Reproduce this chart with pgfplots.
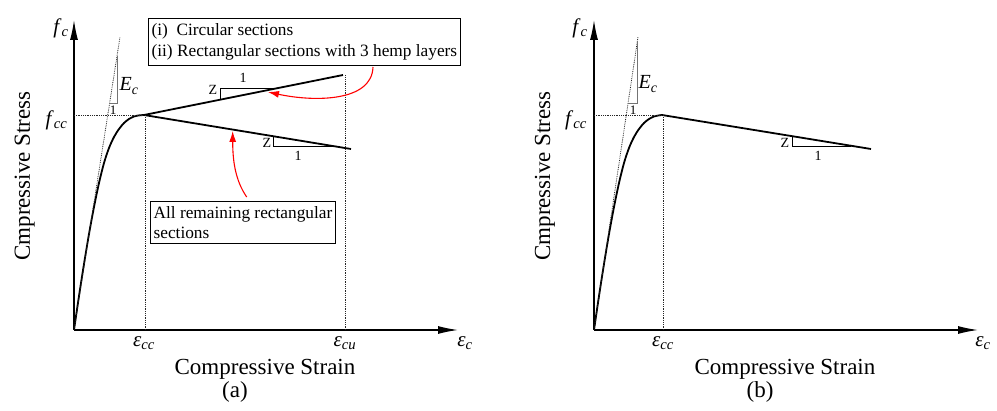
\documentclass[border=0pt]{standalone}
\usepackage{fontspec}
\setmainfont{Liberation Serif}
\usepackage{pgfplots}
\pgfplotsset{compat=1.18}
\usetikzlibrary{arrows.meta}

% italic symbol with italic subscript
\newcommand\sym[2]{\textit{#1}\textsubscript{\textit{#2}}}
\newcommand\fs[1]{\fontsize{#1}{#1}\selectfont}

\pgfplotsset{
  ssaxis/.style={
    x=1pt, y=1pt, xmin=0, xmax=384, ymin=0, ymax=310,
    axis lines*=left,
    axis line style={line width=1.3pt, -{Latex[length=20pt,width=8pt]}},
    xtick=\empty, ytick=\empty, clip=false, anchor=south west,
  },
  curve/.style={line width=1.8pt, black, no markers},
  guide/.style={densely dotted, line width=0.8pt, black!85, no markers},
  slope/.style={line width=0.8pt, black, no markers},
  ecslope/.style={line width=0.6pt, black!55, no markers},
}

\begin{document}
\begin{tikzpicture}
\path[use as bounding box] (0,0) rectangle (997pt,-411pt);

% ---------------- (a) ----------------
\begin{axis}[ssaxis, at={(74pt,-330pt)}]
  % initial ascending branch
  \addplot[curve, smooth] coordinates {
    (0,0) (5,34) (10,66) (15,96) (20,123) (25,147) (30,167) (35,182)
    (40,193) (45,201) (50,207) (55,211) (60,213.5) (65,214.6) (70,215)};
  % hardening branch
  \addplot[curve] coordinates {(70,215) (269,255)};
  % softening branch
  \addplot[curve] coordinates {(70,215) (277,181)};
  % guides
  \addplot[guide] coordinates {(0,215) (70,215)};
  \addplot[guide] coordinates {(71,0) (71,215)};
  \addplot[guide] coordinates {(271,0) (271,255)};
  \addplot[guide] coordinates {(0,0) (46,293)};
  % slope triangles
  \addplot[ecslope] coordinates {(43,274) (43,227) (35.6,227)};
  \addplot[slope] coordinates {(146,230.3) (146,242) (201,242)};
  \addplot[slope] coordinates {(199,193.8) (199,184) (259,184)};

  \node[font=\fs{20}] at (axis cs:55,244) {\sym{E}{c}};
  \node[font=\fs{13}] at (axis cs:39,220) {1};
  \node[font=\fs{14}] at (axis cs:139,240) {Z};
  \node[font=\fs{14}] at (axis cs:169,252) {1};
  \node[font=\fs{14}] at (axis cs:193,187) {Z};
  \node[font=\fs{14}] at (axis cs:224,174) {1};

  \node[font=\fs{21}] at (axis cs:-13,302) {\sym{f}{c}};
  \node[font=\fs{21}] at (axis cs:-17.5,210) {\sym{f}{cc}};
  \node[font=\fs{21}] at (axis cs:70,-13) {\sym{ε}{cc}};
  \node[font=\fs{21}] at (axis cs:271,-13) {\sym{ε}{cu}};
  \node[font=\fs{21}] at (axis cs:391,-13) {\sym{ε}{c}};

  \node[font=\fs{23}, anchor=base] at (axis cs:191,-45) {Compressive Strain};
  \node[font=\fs{23}, anchor=base] at (axis cs:161,-67) {(a)};
  \node[font=\fs{23}, anchor=base, rotate=90] at (axis cs:-44,154) {Cmpressive Stress};

  \node[draw, line width=1.2pt, align=left, anchor=north west,
        inner xsep=3pt, inner ysep=5pt, font=\fontsize{17.3}{21}\selectfont]
    at (axis cs:74,312)
    {(i)\ \ Circular sections\\(ii) Rectangular sections with 3 hemp layers};
  \node[draw, line width=1.2pt, align=left, anchor=north west,
        inner xsep=3pt, inner ysep=5pt, font=\fontsize{17.3}{20}\selectfont]
    at (axis cs:76,129)
    {All remaining rectangular\\sections};

  \draw[red, line width=1.1pt, -{Latex[length=11pt,width=7pt]}]
    (axis cs:299,263) .. controls (axis cs:298,228) and (axis cs:240,228) .. (axis cs:194,238);
  \draw[red, line width=1.1pt, -{Latex[length=11pt,width=7pt]}]
    (axis cs:172.7,133) .. controls (axis cs:161,150) and (axis cs:158.7,170) .. (axis cs:158.7,199);
\end{axis}

% ---------------- (b) ----------------
\begin{axis}[ssaxis, at={(594pt,-330pt)}]
  \addplot[curve, smooth] coordinates {
    (0,0) (5,34) (10,66) (15,96) (20,123) (25,147) (30,167) (35,182)
    (40,193) (45,201) (50,207) (55,211) (60,213.5) (65,214.6) (68,215)};
  \addplot[curve] coordinates {(68,215) (277,181)};
  \addplot[guide] coordinates {(0,215) (68,215)};
  \addplot[guide] coordinates {(69,0) (69,215)};
  \addplot[guide] coordinates {(0,0) (44,293)};
  \addplot[ecslope] coordinates {(43.5,289) (43.5,227) (34,227)};
  \addplot[slope] coordinates {(198,193.2) (198,184) (257,184)};

  \node[font=\fs{20}] at (axis cs:54,246) {\sym{E}{c}};
  \node[font=\fs{13}] at (axis cs:39,220) {1};
  \node[font=\fs{14}] at (axis cs:191,187) {Z};
  \node[font=\fs{14}] at (axis cs:224,174) {1};

  \node[font=\fs{21}] at (axis cs:-14,302) {\sym{f}{c}};
  \node[font=\fs{21}] at (axis cs:-18,210) {\sym{f}{cc}};
  \node[font=\fs{21}] at (axis cs:69,-13) {\sym{ε}{cc}};
  \node[font=\fs{21}] at (axis cs:389,-13) {\sym{ε}{c}};

  \node[font=\fs{23}, anchor=base] at (axis cs:191,-45) {Compressive Strain};
  \node[font=\fs{23}, anchor=base] at (axis cs:166,-67) {(b)};
  \node[font=\fs{23}, anchor=base, rotate=90] at (axis cs:-44,154) {Cmpressive Stress};
\end{axis}
\end{tikzpicture}
\end{document}
